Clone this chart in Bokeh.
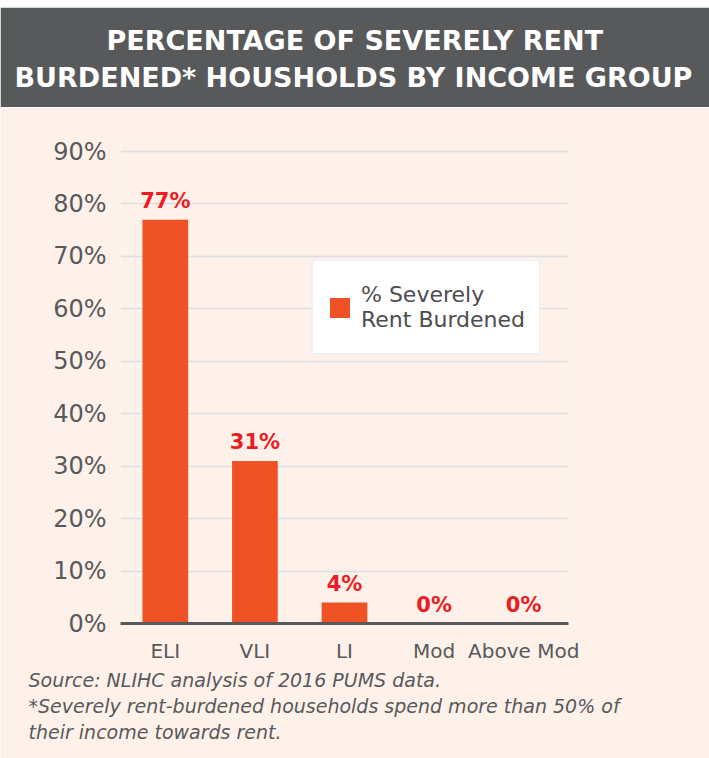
from bokeh.plotting import figure
from bokeh.models import (ColumnDataSource, FactorRange, Range1d, FixedTicker,
                          Legend, LegendItem, Title)
from bokeh.layouts import column
from bokeh.embed import file_html
from bokeh.resources import INLINE
from bokeh.core.properties import value

# ---------------- data ----------------
categories = ["ELI", "VLI", "LI", "Mod", "Above Mod"]
percent_burdened = [77, 31, 4, 0, 0]
y_ticks = [0, 10, 20, 30, 40, 50, 60, 70, 80, 90]
y_tick_labels = ["0%", "10%", "20%", "30%", "40%", "50%", "60%", "70%", "80%", "90%"]
title_lines = ["PERCENTAGE OF SEVERELY RENT",
               "BURDENED* HOUSHOLDS BY INCOME GROUP"]
legend_label = "% Severely\nRent Burdened"
footer_lines = ["Source: NLIHC analysis of 2016 PUMS data.",
                "*Severely rent-burdened households spend more than 50% of",
                "their income towards rent."]

# ---------------- style ----------------
W = 709
TOP_GAP = 7
TH = 100
CH = 758 - TH - TOP_GAP
FONT = "DejaVu Sans"
GREY = "#58595b"
PEACH = "#fef1e9"
BAR = "#ef5224"
RED = "#ec1c24"

# chart frame (pixels inside the chart figure)
L, R = 120, 568
T, B = 33, 516
YMAX = 92.1
PX_PER_UNIT = (B - T) / YMAX
LABEL_GAP_PX = 19

# left offsets (relative to the frame's left edge) that centre each title line
title_offsets = [-14, -106]

# ---------------- title band ----------------
t = figure(width=W, height=TH, x_range=Range1d(0, 1), y_range=Range1d(0, 1),
           x_axis_location=None, y_axis_location=None,
           output_backend="svg", toolbar_location=None,
           min_border_top=87, min_border_bottom=0, min_border_left=0, min_border_right=0,
           background_fill_color=GREY, border_fill_color=GREY,
           outline_line_color=GREY, outline_line_width=3)
t.margin = (TOP_GAP, 0, 0, 0)
t.grid.visible = False
for txt, off in reversed(list(zip(title_lines, title_offsets))):
    t.add_layout(Title(text=txt, align="left", offset=off, text_font=FONT,
                       text_font_style="bold", text_font_size="27px",
                       text_color="white", standoff=4), "above")

# ---------------- chart ----------------
src = ColumnDataSource(dict(cat=categories, val=percent_burdened,
                            lbl=[f"{v}%" for v in percent_burdened],
                            lbl_y=[v + LABEL_GAP_PX / PX_PER_UNIT for v in percent_burdened]))

p = figure(width=W, height=CH,
           x_range=FactorRange(*categories, range_padding=0),
           y_range=Range1d(0, YMAX),
           output_backend="svg", toolbar_location=None,
           min_border_left=L, min_border_right=W - R,
           min_border_top=T, min_border_bottom=CH - B,
           background_fill_color=PEACH, border_fill_color=PEACH,
           outline_line_color=None)

bars = p.vbar(x="cat", top="val", width=0.51, source=src,
              fill_color=BAR, line_color=None)
p.text(x="cat", y="lbl_y", text="lbl", source=src, text_align="center",
       text_baseline="alphabetic",
       text_font=value(FONT), text_font_style="bold", text_font_size="21px",
       text_color=RED)

p.yaxis.ticker = FixedTicker(ticks=y_ticks)
p.yaxis.major_label_overrides = dict(zip(y_ticks, y_tick_labels))
p.yaxis.axis_line_color = None
p.yaxis.major_tick_line_color = None
p.yaxis.major_tick_out = 0
p.yaxis.minor_tick_line_color = None
p.yaxis.minor_tick_out = 0
p.yaxis.major_label_standoff = 14
p.yaxis.major_label_text_font = FONT
p.yaxis.major_label_text_font_size = "24px"
p.yaxis.major_label_text_color = GREY

p.xaxis.axis_line_color = GREY
p.xaxis.axis_line_width = 3
p.xaxis.major_tick_line_color = None
p.xaxis.major_tick_out = 0
p.xaxis.major_label_standoff = 15
p.xaxis.major_label_text_font = FONT
p.xaxis.major_label_text_font_size = "20px"
p.xaxis.major_label_text_color = GREY

p.xgrid.grid_line_color = None
p.ygrid.grid_line_color = "#dadde2"
p.ygrid.grid_line_width = 1.5

legend = Legend(items=[LegendItem(label=value(legend_label), renderers=[bars])],
                location=(191, 268),
                background_fill_color="white", background_fill_alpha=1,
                border_line_color="#e2e2e2", border_line_width=2,
                glyph_width=25, glyph_height=25, label_standoff=9,
                label_height=64,
                label_text_font=FONT, label_text_font_size="22px",
                label_text_color="#4d4d4f", padding=14, margin=0)
p.add_layout(legend)

for txt in footer_lines:
    p.add_layout(Title(text=txt, align="left", offset=28 - L, text_font=FONT,
                       text_font_style="italic", text_font_size="19px",
                       text_color=GREY, standoff=2), "below")

layout = column(t, p, spacing=0)
open("out.html", "w").write(file_html(layout, INLINE))
